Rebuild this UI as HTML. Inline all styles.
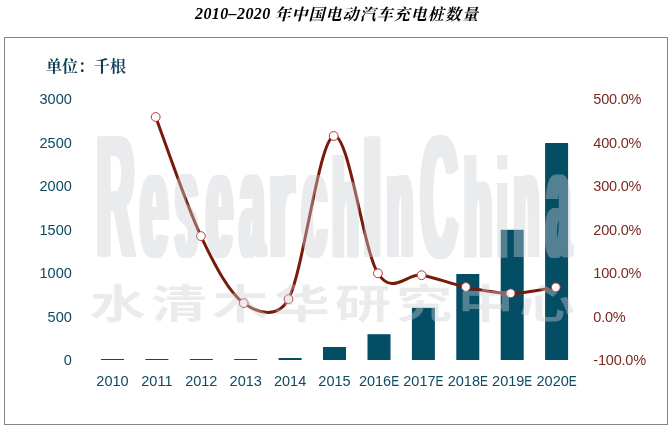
<!DOCTYPE html>
<html lang="zh"><head><meta charset="utf-8"><title>2010-2020 年中国电动汽车充电桩数量</title>
<style>html,body{margin:0;padding:0;background:#fff}svg{display:block}.ax{font-family:"Liberation Sans",sans-serif;font-size:14.5px}</style></head><body>
<svg width="672" height="430" viewBox="0 0 672 430">
<rect width="672" height="430" fill="#fff"/>
<text x="195" y="18.8" font-style="italic" font-weight="bold" font-size="16px" fill="#000" font-family="'Liberation Serif','Noto Serif CJK SC',serif" letter-spacing="0.4px">2010–2020 <tspan x="274.4" y="20.1" letter-spacing="1.05px">年中国电动汽车充电桩数量</tspan></text>
<rect x="4.5" y="37.5" width="663" height="387" fill="none" stroke="#858585" stroke-width="1"/>
<text x="46" y="72" font-weight="bold" font-size="16px" fill="#0f3f58" font-family="'Liberation Serif','Noto Serif CJK SC',serif">单位：千根</text>
<g class="ax" fill="#0d4a63" text-anchor="end">
<text x="71.8" y="365.1">0</text>
<text x="71.8" y="321.6">500</text>
<text x="71.8" y="278.1">1000</text>
<text x="71.8" y="234.6">1500</text>
<text x="71.8" y="191.1">2000</text>
<text x="71.8" y="147.6">2500</text>
<text x="71.8" y="104.1">3000</text>
</g>
<g class="ax" fill="#7a2a1e" letter-spacing="-0.2px">
<text x="593.3" y="365.1">-100.0%</text>
<text x="593.3" y="321.6">0.0%</text>
<text x="593.3" y="278.1">100.0%</text>
<text x="593.3" y="234.6">200.0%</text>
<text x="593.3" y="191.1">300.0%</text>
<text x="593.3" y="147.6">400.0%</text>
<text x="593.3" y="104.1">500.0%</text>
</g>
<g class="ax" fill="#0d4a63" text-anchor="middle">
<text x="112.5" y="386">2010</text>
<text x="156.9" y="386">2011</text>
<text x="201.3" y="386">2012</text>
<text x="245.7" y="386">2013</text>
<text x="290.1" y="386">2014</text>
<text x="334.5" y="386">2015</text>
<text text-anchor="start" x="358.9" y="386">2016<tspan textLength="7.9" lengthAdjust="spacingAndGlyphs">E</tspan></text>
<text text-anchor="start" x="403.3" y="386">2017<tspan textLength="7.9" lengthAdjust="spacingAndGlyphs">E</tspan></text>
<text text-anchor="start" x="447.7" y="386">2018<tspan textLength="7.9" lengthAdjust="spacingAndGlyphs">E</tspan></text>
<text text-anchor="start" x="492.1" y="386">2019<tspan textLength="7.9" lengthAdjust="spacingAndGlyphs">E</tspan></text>
<text text-anchor="start" x="536.5" y="386">2020<tspan textLength="7.9" lengthAdjust="spacingAndGlyphs">E</tspan></text>
</g>
<g fill="#034d65">
<rect x="101.0" y="359.0" width="23.0" height="1.0"/>
<rect x="145.4" y="359.0" width="23.0" height="1.0"/>
<rect x="189.8" y="359.0" width="23.0" height="1.0"/>
<rect x="234.2" y="359.0" width="23.0" height="1.0"/>
<rect x="278.6" y="358.0" width="23.0" height="2.0"/>
<rect x="323.0" y="347.0" width="23.0" height="13.0"/>
<rect x="367.5" y="334.2" width="23.0" height="25.8"/>
<rect x="411.9" y="307.8" width="23.0" height="52.2"/>
<rect x="456.3" y="274.0" width="23.0" height="86.0"/>
<rect x="500.7" y="229.8" width="23.0" height="130.2"/>
<rect x="545.1" y="143.0" width="23.0" height="217.0"/>
</g>
<path d="M155.7,117.0 C163.2,136.8 186.2,205.1 200.9,236.1 C215.6,267.1 229.1,292.6 243.7,303.1 C258.3,313.6 277.8,318.9 288.5,299.1 C303.5,271.2 318.8,140.3 333.7,136.0 C348.6,131.7 363.2,250.1 377.9,273.3 C392.5,296.5 407.0,272.9 421.6,275.2 C436.2,277.5 450.9,284.0 465.8,287.0 C480.6,290.0 495.6,293.2 510.6,293.3 C525.6,293.4 548.3,288.3 555.8,287.3" fill="none" stroke="#7a1a0b" stroke-width="3" stroke-linecap="round" stroke-linejoin="round"/>
<g fill="#fff" stroke="#b5383e" stroke-width="1">
<circle cx="155.7" cy="117.0" r="4.4"/>
<circle cx="200.9" cy="236.1" r="4.4"/>
<circle cx="243.7" cy="303.1" r="4.4"/>
<circle cx="288.5" cy="299.1" r="4.4"/>
<circle cx="333.7" cy="136.0" r="4.4"/>
<circle cx="377.9" cy="273.3" r="4.4"/>
<circle cx="421.6" cy="275.2" r="4.4"/>
<circle cx="465.8" cy="287.0" r="4.4"/>
<circle cx="510.6" cy="293.3" r="4.4"/>
<circle cx="555.8" cy="287.3" r="4.4"/>
</g>
<defs><filter id="fat" x="-5%" y="-5%" width="110%" height="110%"><feOffset in="SourceGraphic" dx="-3.0" result="a"/><feOffset in="SourceGraphic" dx="3.0" result="b"/><feOffset in="SourceGraphic" dx="-1.5" result="c"/><feOffset in="SourceGraphic" dx="1.5" result="d"/><feMerge><feMergeNode in="a"/><feMergeNode in="c"/><feMergeNode in="SourceGraphic"/><feMergeNode in="d"/><feMergeNode in="b"/></feMerge></filter></defs>
<g opacity="0.4" fill="#cbcfd4">
<text y="256.5" font-family="'Liberation Sans',sans-serif" font-weight="bold" filter="url(#fat)"><tspan x="96.5" font-size="175.0px" textLength="38.0" lengthAdjust="spacingAndGlyphs">R</tspan><tspan x="140.2" font-size="152.0px" textLength="27.6" lengthAdjust="spacingAndGlyphs">e</tspan><tspan x="175.6" font-size="152.0px" textLength="22.0" lengthAdjust="spacingAndGlyphs">s</tspan><tspan x="206.6" font-size="152.0px" textLength="26.0" lengthAdjust="spacingAndGlyphs">e</tspan><tspan x="240.1" font-size="152.0px" textLength="24.3" lengthAdjust="spacingAndGlyphs">a</tspan><tspan x="268.7" font-size="152.0px" textLength="25.3" lengthAdjust="spacingAndGlyphs">r</tspan><tspan x="302.0" font-size="152.0px" textLength="24.6" lengthAdjust="spacingAndGlyphs">c</tspan><tspan x="332.6" font-size="141.0px" textLength="26.0" lengthAdjust="spacingAndGlyphs">h</tspan><tspan x="362.2" font-size="175.0px" textLength="20.1" lengthAdjust="spacingAndGlyphs">I</tspan><tspan x="387.1" font-size="152.0px" textLength="25.8" lengthAdjust="spacingAndGlyphs">n</tspan><tspan x="420.8" font-size="175.0px" textLength="36.7" lengthAdjust="spacingAndGlyphs">C</tspan><tspan x="463.9" font-size="141.0px" textLength="27.9" lengthAdjust="spacingAndGlyphs">h</tspan><tspan x="497.9" font-size="141.0px" textLength="8.5" lengthAdjust="spacingAndGlyphs">i</tspan><tspan x="514.1" font-size="152.0px" textLength="24.8" lengthAdjust="spacingAndGlyphs">n</tspan><tspan x="546.5" font-size="152.0px" textLength="24.2" lengthAdjust="spacingAndGlyphs">a</tspan></text>
<text transform="translate(89.8,318.2) scale(1.4,1)" font-family="'Noto Sans CJK SC',sans-serif" font-weight="700" font-size="40px" letter-spacing="3.8px">水清木华研究中心</text>
</g>
</svg></body></html>
